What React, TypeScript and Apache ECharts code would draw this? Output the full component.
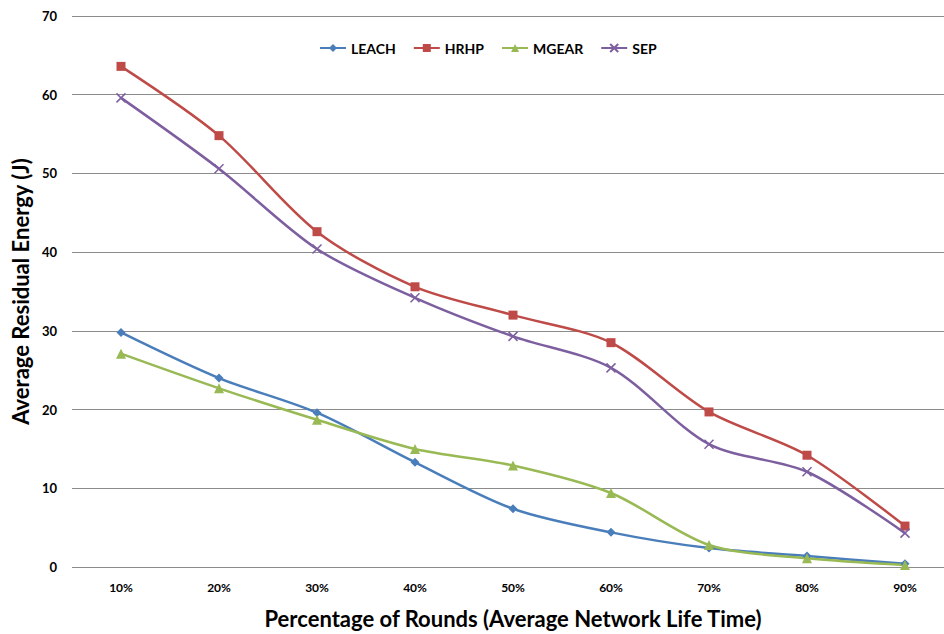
import React, { useEffect, useRef } from "react";
import * as echarts from "echarts";

const categories = ["10%", "20%", "30%", "40%", "50%", "60%", "70%", "80%", "90%"];
const leach = [29.8, 24.0, 19.6, 13.3, 7.4, 4.4, 2.4, 1.4, 0.4];
const hrhp = [63.6, 54.8, 42.6, 35.6, 32.0, 28.5, 19.7, 14.2, 5.2];
const mgear = [27.1, 22.7, 18.7, 15.0, 12.9, 9.4, 2.8, 1.1, 0.25];
const sep = [59.6, 50.6, 40.4, 34.2, 29.3, 25.3, 15.6, 12.1, 4.3];

const FONT = "Lato, 'Noto Sans', sans-serif";
const crossPath = "path://M0,0L10,10M10,0L0,10";

export default function App() {
  const ref = useRef<HTMLDivElement>(null);
  useEffect(() => {
    if (!ref.current) return;
    const chart = echarts.init(ref.current, undefined, { renderer: "svg" });
    const mk = (name: string, data: number[], color: string, symbol: string, size: number) => ({
      name,
      type: "line",
      data,
      smooth: 0.3,
      symbol,
      symbolSize: size,
      lineStyle: { color, width: 2.5 },
      itemStyle: { color },
    });
    chart.setOption({
      animation: false,
      backgroundColor: "#ffffff",
      textStyle: { fontFamily: FONT },
      legend: {
        top: 36,
        left: 314,
        itemWidth: 26,
        itemHeight: 10,
        itemGap: 17,
        textStyle: { fontFamily: FONT, fontWeight: "bold", fontSize: 14, color: "#000" },
        data: ["LEACH", "HRHP", "MGEAR", "SEP"],
      },
      grid: { left: 72, right: -10, top: 16, bottom: 67, containLabel: false, outerBoundsMode: "none" },
      xAxis: {
        type: "category",
        data: categories,
        boundaryGap: true,
        axisLine: { show: false },
        axisTick: { show: false },
        axisLabel: { fontFamily: FONT, fontWeight: "bold", fontSize: 12, color: "#000", margin: 14 },
        name: "Percentage of Rounds (Average Network Life Time)",
        nameLocation: "middle",
        nameGap: 40,
        nameTextStyle: { fontFamily: FONT, fontWeight: "bold", fontSize: 22, color: "#000" },
      },
      yAxis: {
        type: "value",
        min: 0,
        max: 70,
        interval: 10,
        axisLine: { show: false },
        axisTick: { show: false },
        splitLine: { lineStyle: { color: "#8c8c8c", width: 1 } },
        axisLabel: { fontFamily: FONT, fontWeight: "bold", fontSize: 13, color: "#000", margin: 15 },
        name: "Average Residual Energy (J)",
        nameLocation: "middle",
        nameGap: 41,
        nameRotate: 90,
        nameTextStyle: { fontFamily: FONT, fontWeight: "bold", fontSize: 22, color: "#000" },
      },
      series: [
        mk("LEACH", leach, "#4A7EBB", "diamond", 9),
        mk("HRHP", hrhp, "#BE4B48", "rect", 9),
        mk("MGEAR", mgear, "#98B954", "triangle", 10),
        {
          ...mk("SEP", sep, "#7D5FA0", crossPath, 9),
          itemStyle: { color: "#7D5FA0", borderColor: "#7D5FA0", borderWidth: 1.5 },
        },
      ],
    });
    return () => chart.dispose();
  }, []);
  return (
    <div
      ref={ref}
      style={{ position: "fixed", left: 0, top: 0, width: 944, height: 634, background: "#fff" }}
    />
  );
}
